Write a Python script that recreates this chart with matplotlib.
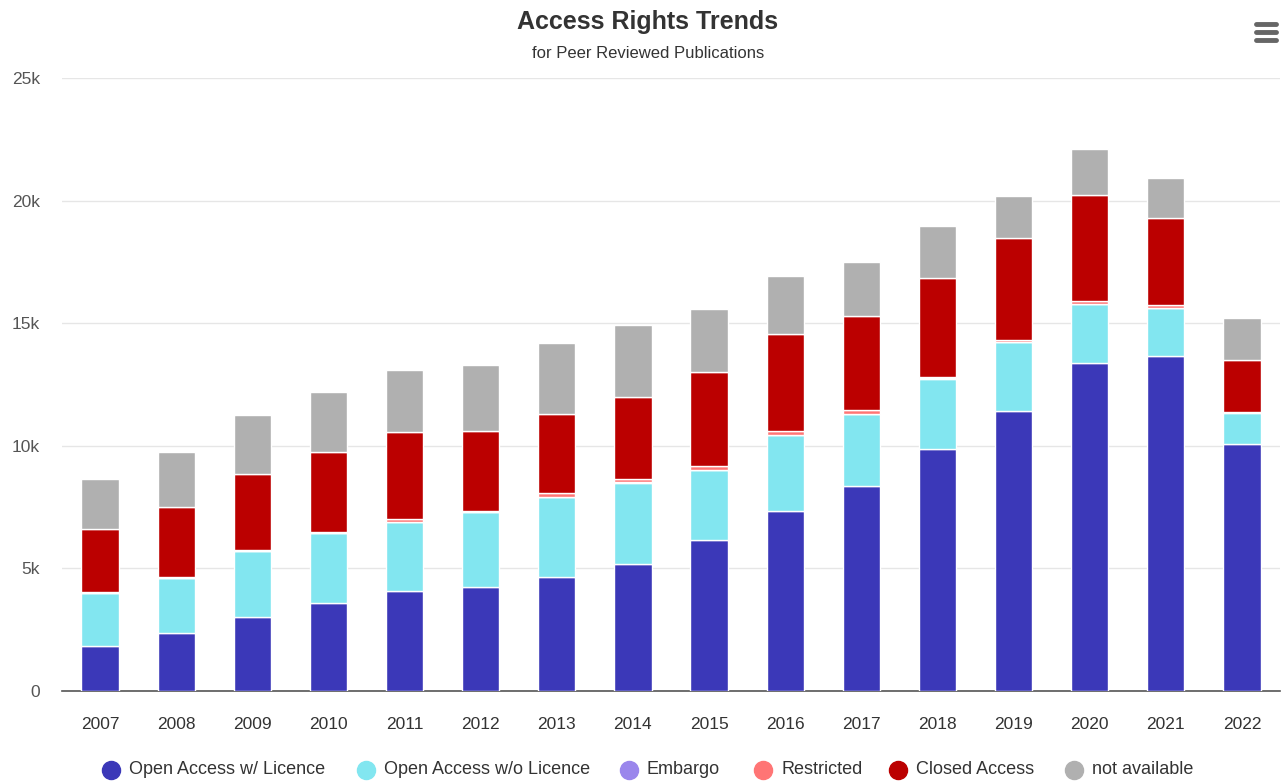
import numpy as np
import matplotlib
matplotlib.use('Agg')
import matplotlib.pyplot as plt
from matplotlib.lines import Line2D

plt.rcParams['font.family'] = ['Liberation Sans', 'DejaVu Sans']

years = ['2007', '2008', '2009', '2010', '2011', '2012', '2013', '2014',
         '2015', '2016', '2017', '2018', '2019', '2020', '2021', '2022']

oa_licence = [1850, 2380, 3000, 3580, 4090, 4250, 4660, 5180,
              6160, 7350, 8360, 9870, 11420, 13360, 13660, 10060]
oa_no_licence = [2150, 2230, 2700, 2850, 2810, 3050, 3260, 3320,
                 2850, 3090, 2940, 2870, 2810, 2420, 1950, 1290]
embargo = [10, 10, 10, 10, 10, 10, 10, 10, 10, 10, 10, 10, 10, 10, 10, 10]
restricted = [30, 30, 40, 40, 100, 50, 140, 120,
              150, 140, 140, 60, 60, 120, 130, 30]
closed = [2550, 2870, 3100, 3260, 3560, 3250, 3240, 3360,
          3850, 3980, 3860, 4050, 4170, 4330, 3520, 2110]
not_available = [2050, 2210, 2390, 2460, 2530, 2680, 2870, 2920,
                 2570, 2360, 2180, 2100, 1710, 1870, 1650, 1710]

series_names = ['Open Access w/ Licence', 'Open Access w/o Licence', 'Embargo',
                'Restricted', 'Closed Access', 'not available']
series_colors = ['#3b38b8', '#82e6f0', '#9a86ec', '#ff7575', '#bb0000', '#b0b0b0']
series_values = [oa_licence, oa_no_licence, embargo, restricted, closed, not_available]

fig = plt.figure(figsize=(12.83, 7.81), dpi=100)
ax = fig.add_axes([62 / 1283, 1 - 691 / 781, 1218 / 1283, 613 / 781])

x = np.arange(len(years))
bottom = np.zeros(len(years))
for name, color, vals in zip(series_names, series_colors, series_values):
    vals = np.array(vals, dtype=float)
    ax.bar(x, vals, width=0.49, bottom=bottom, color=color,
           edgecolor='white', linewidth=1, label=name, zorder=3)
    bottom += vals

ax.set_xlim(-0.5, len(years) - 0.5)
ax.set_ylim(0, 25000)
ax.set_yticks(np.arange(0, 25001, 5000))
ax.set_yticklabels(['0', '5k', '10k', '15k', '20k', '25k'])
ax.set_xticks(x)
ax.set_xticklabels(years)
ax.grid(axis='y', color='#e6e6e6', linewidth=1, zorder=0)
ax.tick_params(axis='y', length=0, pad=16, labelsize=12.5, labelcolor='#555555')
ax.tick_params(axis='x', length=0, pad=19, labelsize=12.5, labelcolor='#333333')
for s in ['top', 'right', 'left']:
    ax.spines[s].set_visible(False)
ax.spines['bottom'].set_color('#555555')
ax.spines['bottom'].set_linewidth(1.2)

fig.text(0.505, 1 - 22 / 781, 'Access Rights Trends', ha='center', va='center',
         fontsize=18, fontweight='bold', color='#333333')
fig.text(0.505, 1 - 53 / 781, 'for Peer Reviewed Publications', ha='center',
         va='center', fontsize=12, color='#333333')

# menu icon
for yy in [24, 32, 40]:
    fig.add_artist(Line2D([1256 / 1283, 1276 / 1283], [1 - yy / 781] * 2,
                          color='#666666', linewidth=3.5, solid_capstyle='round'))

# legend
marker_x = [111, 366, 629, 763, 898, 1074]
ly = 1 - 770 / 781
for mx, name, color in zip(marker_x, series_names, series_colors):
    fig.add_artist(Line2D([mx / 1283], [ly], marker='o', markersize=13,
                          color=color, linestyle='none'))
    fig.text((mx + 18) / 1283, ly, name, ha='left', va='center',
             fontsize=13, color='#333333')

fig.savefig('out.png', dpi=100)
